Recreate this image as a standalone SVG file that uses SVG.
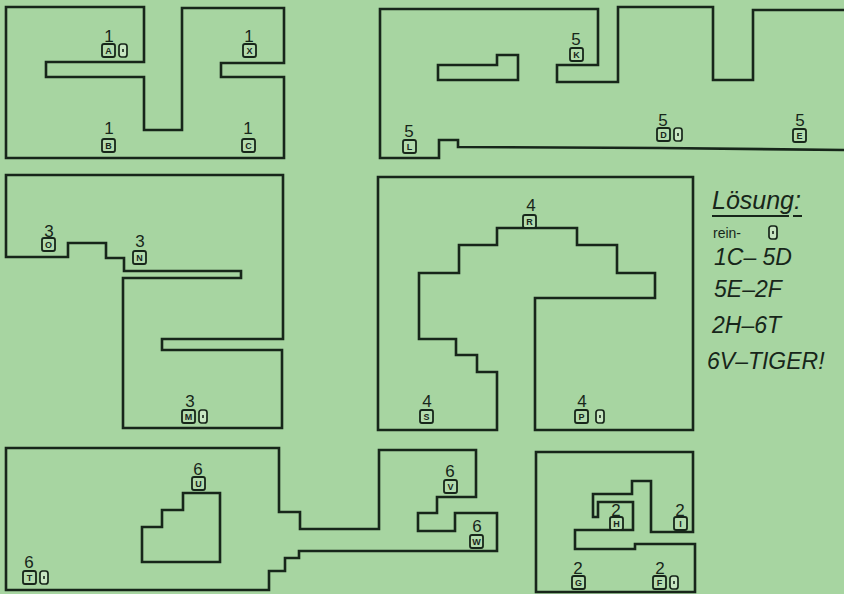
<svg xmlns="http://www.w3.org/2000/svg" width="844" height="594" viewBox="0 0 844 594">
<style>
.w{fill:none;stroke:#17261a;stroke-width:2.6;stroke-linejoin:miter}
.d{font-family:"Liberation Sans",Arial,sans-serif;font-size:17px;fill:#17261a;text-anchor:middle}
.b{fill:#b4dcae;stroke:#17261a;stroke-width:1.8}
.l{font-family:"Liberation Sans",Arial,sans-serif;font-size:9px;font-weight:bold;fill:#17261a;text-anchor:middle}
.s{font-family:"Liberation Sans",Arial,sans-serif;font-style:italic;fill:#17261a}
</style>
<defs>
<g id="door"><rect x="0" y="0" width="8" height="13" rx="2.5" fill="#c8e6c2" stroke="#17261a" stroke-width="1.7"/><line x1="4" y1="5" x2="4" y2="8" stroke="#17261a" stroke-width="1.6"/></g>
</defs>
<rect width="844" height="594" fill="#a7d5a1"/>
<g id="room1">
<path class="w" d="M6,7 H144 V62 H46 V77 H144 V130 H182 V8 H284 V63 H221 V77 H284 V158 H6 Z"/>
<text class="d" x="109" y="42">1</text><rect class="b" x="102" y="44" width="13" height="13" rx="2"/><text class="l" x="108.5" y="54">A</text><use href="#door" x="119" y="44"/>
<text class="d" x="249" y="42">1</text><rect class="b" x="243" y="44" width="13" height="13" rx="2"/><text class="l" x="249.5" y="54">X</text>
<text class="d" x="109" y="134">1</text><rect class="b" x="102" y="139" width="13" height="13" rx="2"/><text class="l" x="108.5" y="149">B</text>
<text class="d" x="248" y="134">1</text><rect class="b" x="242" y="139" width="13" height="13" rx="2"/><text class="l" x="248.5" y="149">C</text>
</g>
<g id="room5">
<path class="w" d="M844,10 H753 V80 H713 V7 H618 V82 H557 V65 H598 V9 H380 V158 H439 V140 H458 V147 L660,148 L844,150"/>
<path class="w" d="M438,65 H497 V55 H518 V80 H438 Z"/>
<text class="d" x="576" y="45">5</text><rect class="b" x="570" y="48" width="13" height="13" rx="2"/><text class="l" x="576.5" y="58">K</text>
<text class="d" x="409" y="137">5</text><rect class="b" x="403" y="140" width="13" height="13" rx="2"/><text class="l" x="409.5" y="150">L</text>
<text class="d" x="663" y="126">5</text><rect class="b" x="657" y="128" width="13" height="13" rx="2"/><text class="l" x="663.5" y="138">D</text><use href="#door" x="674" y="128"/>
<text class="d" x="800" y="126">5</text><rect class="b" x="793" y="129" width="13" height="13" rx="2"/><text class="l" x="799.5" y="139">E</text>
</g>
<g id="room3">
<path class="w" d="M6,175 H283 V339 H162 V350 H282 V428 H123 V278 H241 V271 H124 V258 H106 V243 H68 V257 H6 Z"/>
<text class="d" x="49" y="237">3</text><rect class="b" x="42" y="238" width="13" height="13" rx="2"/><text class="l" x="48.5" y="248">O</text>
<text class="d" x="140" y="247">3</text><rect class="b" x="133" y="251" width="13" height="13" rx="2"/><text class="l" x="139.5" y="261">N</text>
<text class="d" x="190" y="407">3</text><rect class="b" x="182" y="410" width="13" height="13" rx="2"/><text class="l" x="188.5" y="420">M</text><use href="#door" x="199" y="410"/>
</g>
<g id="room4">
<path class="w" d="M378,177 H693 V430 H535 V298 H655 V273 H617 V245 H577 V228 H497 V245 H459 V273 H419 V339 H456 V355 H477 V372 H497 V430 H378 Z"/>
<text class="d" x="531" y="211">4</text><rect class="b" x="523" y="215" width="13" height="13" rx="2"/><text class="l" x="529.5" y="225">R</text>
<text class="d" x="427" y="407">4</text><rect class="b" x="420" y="410" width="13" height="13" rx="2"/><text class="l" x="426.5" y="420">S</text>
<text class="d" x="582" y="407">4</text><rect class="b" x="575" y="410" width="13" height="13" rx="2"/><text class="l" x="581.5" y="420">P</text><use href="#door" x="596" y="410"/>
</g>
<g id="room6">
<path class="w" d="M6,448 H279 V512 H300 V529 H379 V450 H476 V497 H437 V513 H418 V531 H455 V513 H497 V551 H299 V558 H285 V571 H269 V590 H6 Z"/>
<path class="w" d="M183,493 H220 V562 H142 V527 H162 V510 H183 Z"/>
<text class="d" x="198" y="475">6</text><rect class="b" x="192" y="477" width="13" height="13" rx="2"/><text class="l" x="198.5" y="487">U</text>
<text class="d" x="450" y="477">6</text><rect class="b" x="444" y="480" width="13" height="13" rx="2"/><text class="l" x="450.5" y="490">V</text>
<text class="d" x="477" y="532">6</text><rect class="b" x="470" y="535" width="13" height="13" rx="2"/><text class="l" x="476.5" y="545">W</text>
<text class="d" x="29" y="568">6</text><rect class="b" x="23" y="571" width="13" height="13" rx="2"/><text class="l" x="29.5" y="581">T</text><use href="#door" x="40" y="571"/>
</g>
<g id="room2">
<path class="w" d="M536,452 H693 V532 H651 V481 H632 V494 H593 V517 H598 V502 H633 V530 H575 V549 H635 V544 H695 V592 H536 Z"/>
<text class="d" x="616" y="516">2</text><rect class="b" x="610" y="517" width="13" height="13" rx="2"/><text class="l" x="616.5" y="527">H</text>
<text class="d" x="680" y="516">2</text><rect class="b" x="674" y="517" width="13" height="13" rx="2"/><text class="l" x="680.5" y="527">I</text>
<text class="d" x="578" y="574">2</text><rect class="b" x="572" y="576" width="13" height="13" rx="2"/><text class="l" x="578.5" y="586">G</text>
<text class="d" x="660" y="574">2</text><rect class="b" x="653" y="576" width="13" height="13" rx="2"/><text class="l" x="659.5" y="586">F</text><use href="#door" x="670" y="576"/>
</g>
<g id="solution">
<text class="s" x="712" y="209" font-size="25">Lösung:</text>
<line x1="712" y1="216" x2="789" y2="216" stroke="#17261a" stroke-width="2"/>
<line x1="793" y1="216" x2="802" y2="216" stroke="#17261a" stroke-width="2"/>
<text x="713" y="238" font-family="Liberation Sans, Arial, sans-serif" font-size="14" fill="#17261a">rein-</text>
<use href="#door" x="769" y="226" transform="translate(0,0)"/>
<text class="s" x="714" y="265" font-size="23">1C– 5D</text>
<text class="s" x="714" y="297" font-size="23">5E–2F</text>
<text class="s" x="712" y="333" font-size="23">2H–6T</text>
<text class="s" x="707" y="369" font-size="23">6V–TIGER!</text>
</g>
</svg>
